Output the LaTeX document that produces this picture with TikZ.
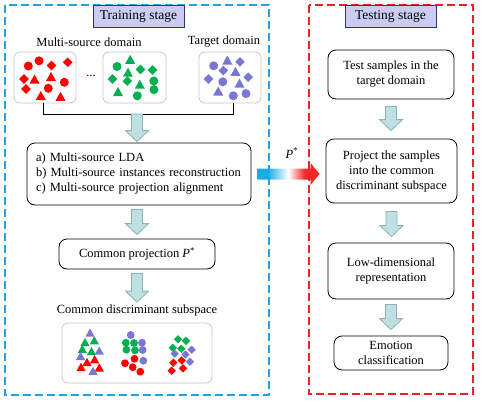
\documentclass[tikz,border=0pt]{standalone}
\usepackage{fontspec}
\setmainfont{Liberation Serif}
\usetikzlibrary{calc}
\definecolor{cyanA}{RGB}{25,172,232}
\definecolor{redA}{RGB}{245,40,40}
\definecolor{dashblue}{RGB}{30,165,225}
\definecolor{dashred}{RGB}{240,30,40}
\definecolor{samred}{RGB}{255,0,0}
\definecolor{samgreen}{RGB}{0,176,80}
\definecolor{sampurple}{RGB}{120,120,210}
\definecolor{arrfill}{RGB}{190,224,226}
\definecolor{arrdraw}{RGB}{140,178,180}
\definecolor{labfill}{RGB}{204,204,242}
\definecolor{labdraw}{RGB}{50,50,120}
\pgfdeclarehorizontalshading{pgrad}{100bp}{color(0bp)=(cyanA); color(33bp)=(cyanA); color(50bp)=(white); color(63bp)=(redA); color(100bp)=(redA)}
\tikzset{
  box/.style={draw=black, line width=0.8pt, rounded corners=8pt, align=center, inner sep=0pt},
  sbox/.style={draw=black!22, line width=0.8pt, rounded corners=6pt, inner sep=0pt},
  lab/.style={draw=labdraw, fill=labfill, line width=0.8pt, inner sep=0pt, minimum width=91pt, minimum height=22pt, font=\fontsize{13.5}{16}\selectfont},
  txt/.style={inner sep=0pt},
  blockarrow/.style={draw=arrdraw, fill=arrfill, line width=0.8pt, line join=miter},
  frame/.style={line width=1.3pt, dash pattern=on 8pt off 4pt},
  bracket/.style={draw=black, line width=0.9pt},
}
\newcommand\barrow[2]{%
  \draw[blockarrow] let \p1=(#1), \p2=(#2) in
  (\x1-5.5pt,\y1) -- (\x1+5.5pt,\y1) -- (\x1+5.5pt,\y2+11pt) -- (\x1+11.5pt,\y2+11pt)
  -- (\x1,\y2) -- (\x1-11.5pt,\y2+11pt) -- (\x1-5.5pt,\y2+11pt) -- cycle;}
\newcommand\cir[3]{\fill[#3] (#1,#2) circle[radius=4.5pt];}
\newcommand\tri[3]{\fill[#3] (#1,#2) ++(0,-5) -- ++(5,9) -- ++(-10,0) -- cycle;}
\newcommand\dia[3]{\fill[#3] (#1,#2) ++(0,-4.8) -- ++(4.8,4.8) -- ++(-4.8,4.8) -- ++(-4.8,-4.8) -- cycle;}
\newcommand\scir[3]{\fill[#3] (#1,#2) circle[radius=3.9pt];}
\newcommand\stri[3]{\fill[#3] (#1,#2) ++(0,-4.5) -- ++(4.6,8.2) -- ++(-9.2,0) -- cycle;}
\newcommand\sdia[3]{\fill[#3] (#1,#2) ++(0,-4.2) -- ++(4.2,4.2) -- ++(-4.2,4.2) -- ++(-4.2,-4.2) -- cycle;}
\begin{document}
\begin{tikzpicture}[x=1pt,y=-1pt,font=\fontsize{12.5}{15}\selectfont]
\useasboundingbox (0,0) rectangle (483,402);

% sample boxes
\node[sbox, minimum width=62pt, minimum height=51pt] (red) at (45,77.5) {};
\node[sbox, minimum width=63pt, minimum height=51pt] (green) at (134.5,77.5) {};
\node[sbox, minimum width=62pt, minimum height=51pt] (tgt) at (230,77.5) {};
\node[txt] (msd) at (89,42) {Multi-source domain};
\node[txt] (tdl) at (224,42) {Target domain};
\node[txt] (dots) at (91,76) {...};

% red source
\cir{28.3}{66}{samred} \cir{39}{60.8}{samred} \dia{51.5}{65.5}{samred} \dia{67.7}{62.3}{samred}
\dia{24}{79}{samred} \tri{34.5}{79.5}{samred} \tri{51}{77}{samred} \cir{64.3}{82.3}{samred}
\dia{26}{89}{samred} \cir{48.3}{88.3}{samred} \tri{40.8}{96}{samred} \tri{60.5}{96.8}{samred}
% green source
\tri{130.2}{59.8}{samgreen} \cir{117}{66.5}{samgreen} \dia{140.5}{69.5}{samgreen} \dia{152.5}{70}{samgreen}
\tri{128}{72.7}{samgreen} \dia{112.5}{79}{samgreen} \dia{127.3}{81}{samgreen} \tri{139.8}{84.7}{samgreen}
\cir{153.8}{81}{samgreen} \cir{154}{89.6}{samgreen} \tri{118}{92}{samgreen} \cir{137.3}{95.8}{samgreen}
% target
\cir{213.7}{65.8}{sampurple} \tri{227.3}{60.5}{sampurple} \dia{240}{61.8}{sampurple} \dia{223.3}{70.5}{sampurple}
\tri{235.5}{71.8}{sampurple} \dia{208.5}{79}{sampurple} \cir{222.8}{81.8}{sampurple} \dia{248.2}{77.2}{sampurple}
\tri{239.5}{83.5}{sampurple} \tri{218.2}{91.5}{sampurple} \cir{233.3}{95.8}{sampurple} \cir{246}{93.6}{sampurple}

% bracket
\coordinate (bl) at ($(red.south)+(-2,11.5)$);
\coordinate (br) at ($(tgt.south)+(3,11.5)$);
\coordinate (bm) at (137,114);
\draw[bracket] ($(red.south)+(-2,0)$) -- (bl) -- (br) -- ($(tgt.south)+(3,0)$);

% left boxes
\node[box, minimum width=224pt, minimum height=62pt, text width=206pt, align=left] (lda) at (139,174)
  {a) Multi-source LDA\\b) Multi-source instances reconstruction\\c) Multi-source projection alignment};
\node[box, minimum width=156pt, minimum height=30pt] (proj) at (137,254) {Common projection \textit{P}\textsuperscript{*}};
\node[txt] (cds) at (137,310) {Common discriminant subspace};
\node[sbox, minimum width=150pt, minimum height=60pt] (sub) at (137,353) {};

\barrow{bm}{$(bm|-lda.north)+(0,-1)$}
\barrow{$(proj.north|-lda.south)+(0,4)$}{$(proj.north)+(0,-4)$}
\barrow{$(proj.south)+(0,4)$}{$(cds.north)+(0,-2)$}

% subspace clusters
\stri{90}{333}{sampurple} \stri{85}{342.5}{samgreen} \stri{94.3}{340.7}{samgreen} \stri{82.3}{349.3}{samgreen}
\stri{91.5}{351.5}{samgreen} \stri{99.3}{351}{sampurple} \stri{80.5}{356.3}{sampurple} \stri{87}{362.3}{samred}
\stri{94.6}{359.6}{samred} \stri{81}{367.3}{samred} \stri{99.3}{367.8}{samred} \stri{93}{371.2}{sampurple}
\scir{130.7}{335}{sampurple} \scir{125.8}{342.7}{samgreen} \scir{134}{343}{samgreen} \scir{142}{342.7}{sampurple}
\scir{126.4}{349.7}{samgreen} \scir{135}{350.4}{samgreen} \scir{142.7}{350}{sampurple} \scir{134.5}{358.8}{samred}
\scir{143.3}{360.7}{sampurple} \scir{125}{363.3}{samred} \scir{132.7}{367.2}{samred} \scir{140.3}{371.7}{samred}
\sdia{178}{339.2}{samgreen} \sdia{186}{340.8}{samgreen} \sdia{172.8}{347.8}{samgreen} \sdia{181.3}{348.8}{samgreen}
\sdia{191.7}{349.7}{sampurple} \sdia{174.7}{353.7}{sampurple} \sdia{185.5}{354.5}{sampurple} \sdia{181.7}{360.4}{samred}
\sdia{190}{361.7}{sampurple} \sdia{173.3}{362.7}{samred} \sdia{183}{368.3}{samred} \sdia{171.7}{370.7}{samred}

% right boxes
\node[box, minimum width=126pt, minimum height=49pt] (test) at (391,74.5) {Test samples in the\\target domain};
\node[box, minimum width=131pt, minimum height=64pt] (projR) at (391.5,171) {Project the samples\\into the common\\discriminant subspace};
\node[box, minimum width=126pt, minimum height=56pt] (low) at (391,271) {Low-dimensional\\representation};
\node[box, minimum width=114pt, minimum height=34pt] (emo) at (391,353) {Emotion\\classification};

\barrow{$(test.south)+(0,7)$}{$(projR.north)+(0,-8)$}
\barrow{$(projR.south)+(0,8)$}{$(low.north)+(0,-6)$}
\barrow{$(low.south)+(0,5)$}{$(emo.north)+(0,-6)$}

% gradient arrow
\shade[shading=pgrad] let \p1=($(lda.east)+(6,0)$), \p2=($(projR.west)+(-6,0)$) in
  (\x1,\y1+5.5pt) -- (\x2-9pt,\y1+5.5pt) -- (\x2-9pt,\y1+11pt) -- (\x2,\y1) -- (\x2-9pt,\y1-11pt)
  -- (\x2-9pt,\y1-5.5pt) -- (\x1,\y1-5.5pt) -- cycle;
\node[txt] (pstar) at (292,153) {\textit{P}\textsuperscript{*}};

% frames
\draw[frame, dashblue] (5,5) rectangle (269,395);
\draw[frame, dashred] (309,5) rectangle (473,394);
\node[lab] (trainlab) at (138.5,16) {Training stage};
\node[lab] (testlab) at (390.5,16) {Testing stage};
\end{tikzpicture}
\end{document}
